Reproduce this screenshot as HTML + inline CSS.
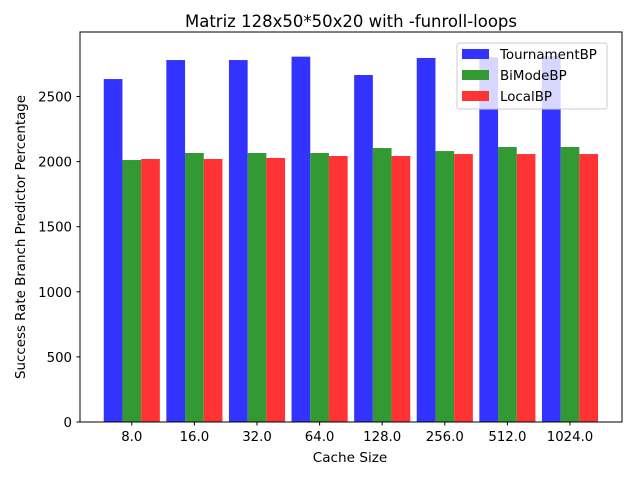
<!DOCTYPE html>
<html><head><meta charset="utf-8"><style>
body{margin:0;background:#fff;font-family:"Liberation Sans","DejaVu Sans",sans-serif}
text{font-family:"DejaVu Sans","Liberation Sans",sans-serif}
</style></head><body>
<svg width="640" height="480">
<rect width="640" height="480" fill="#fff"/>
<text x="351" y="27" font-size="16.5" text-anchor="middle">Matriz 128x50*50x20 with -funroll-loops</text>
<g id="bars"></g>
<g id="axes"></g>
<rect x="80" y="32" width="542" height="390" fill="none" stroke="#000" stroke-width="1"/>
<text x="350" y="462" font-size="13.6" text-anchor="middle">Cache Size</text>
<text transform="translate(25,237) rotate(-90)" font-size="13.4" text-anchor="middle">Success Rate Branch Predictor Percentage</text>
<g>
<rect x="457" y="43" width="150" height="66" rx="2" fill="#fff" fill-opacity="0.8" stroke="#ccc"/>
<rect x="462" y="49" width="27" height="10" fill="#3333ff"/>
<text x="500" y="59" font-size="13.4">TournamentBP</text>
<rect x="462" y="70" width="27" height="10" fill="#339933"/>
<text x="500" y="80" font-size="13.4">BiModeBP</text>
<rect x="462" y="91" width="27" height="10" fill="#ff3333"/>
<text x="500" y="101" font-size="13.4">LocalBP</text>
</g>
</svg>
<script>
const categories=["8.0","16.0","32.0","64.0","128.0","256.0","512.0","1024.0"];
const tournament=[2634,2780,2780,2806,2665,2796,2800,2810];
const bimode=[2012,2066,2066,2066,2104,2081,2112,2112];
const local=[2020,2020,2028,2043,2043,2058,2058,2058];
const yTicks=[0,500,1000,1500,2000,2500];
const NS="http://www.w3.org/2000/svg";
function y(v){return 422-v*0.1302;}
function cx(i){return 131.8+62.6*i;}
const bw=18.7;
const bars=document.getElementById('bars'),axes=document.getElementById('axes');
const series=[[tournament,"#3333ff","tournament",-1],[bimode,"#339933","bimode",0],[local,"#ff3333","local",1]];
series.forEach(s=>{s[0].forEach((v,i)=>{
 const r=document.createElementNS(NS,'rect');
 const x=cx(i)+s[3]*bw-bw/2;
 r.setAttribute('x',x);r.setAttribute('width',bw);
 r.setAttribute('y',y(v));r.setAttribute('height',422-y(v));
 r.setAttribute('fill',s[1]);
 
 
 bars.appendChild(r);});});
categories.forEach((c,i)=>{
 const l=document.createElementNS(NS,'line');
 l.setAttribute('x1',cx(i));l.setAttribute('x2',cx(i));l.setAttribute('y1',422);l.setAttribute('y2',425.5);l.setAttribute('stroke','#000');
 axes.appendChild(l);
 const t=document.createElementNS(NS,'text');
 t.setAttribute('x',cx(i));t.setAttribute('y',441);t.setAttribute('font-size','13.3');t.setAttribute('text-anchor','middle');
 t.textContent=c;
 
 
 axes.appendChild(t);});
yTicks.forEach(v=>{
 const l=document.createElementNS(NS,'line');
 l.setAttribute('x1',76.5);l.setAttribute('x2',80);l.setAttribute('y1',y(v));l.setAttribute('y2',y(v));l.setAttribute('stroke','#000');
 axes.appendChild(l);
 const t=document.createElementNS(NS,'text');
 t.setAttribute('x',72);t.setAttribute('y',y(v)+5);t.setAttribute('font-size','13.3');t.setAttribute('text-anchor','end');
 t.textContent=v;
 
 
 axes.appendChild(t);});
</script>
</body></html>
